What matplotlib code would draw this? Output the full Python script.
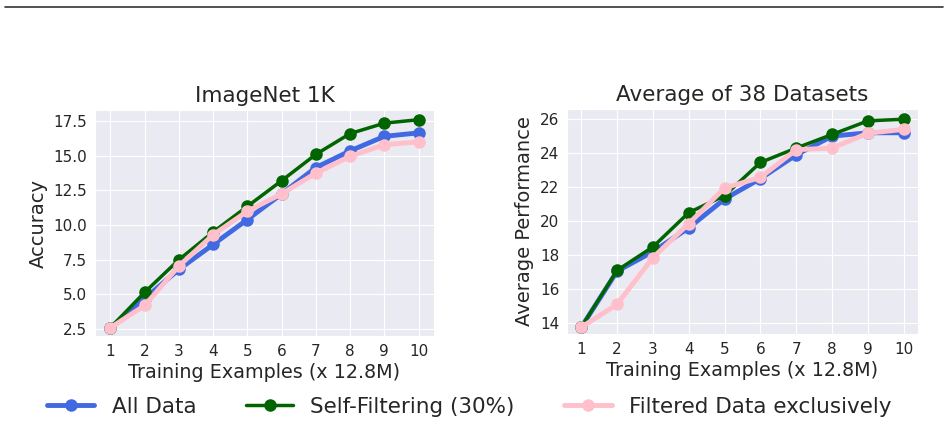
import matplotlib
matplotlib.use("Agg")
import matplotlib.pyplot as plt
import seaborn as sns
import numpy as np

# data
steps = [1, 2, 3, 4, 5, 6, 7, 8, 9, 10]

imnet_all = [2.6, 4.7, 6.8, 8.6, 10.4, 12.25, 14.15, 15.35, 16.4, 16.65]
imnet_self = [2.6, 5.15, 7.5, 9.5, 11.35, 13.2, 15.1, 16.6, 17.35, 17.6]
imnet_filt = [2.6, 4.2, 7.05, 9.3, 11.0, 12.25, 13.75, 14.95, 15.8, 16.0]

avg_all = [13.75, 17.05, 18.2, 19.6, 21.3, 22.5, 23.9, 25.0, 25.2, 25.2]
avg_self = [13.75, 17.1, 18.48, 20.5, 21.5, 23.45, 24.3, 25.1, 25.9, 26.0]
avg_filt = [13.75, 15.1, 17.85, 19.85, 21.95, 22.57, 24.2, 24.3, 25.17, 25.4]

labels = ["All Data", "Self-Filtering (30%)", "Filtered Data exclusively"]
colors = ["royalblue", "darkgreen", "pink"]
widths = [3.5, 2.5, 3.5]

sns.set_style("darkgrid")
plt.rcParams['font.family'] = ['DejaVu Sans']

fig = plt.figure(figsize=(9.48, 4.26), dpi=100)
ax1 = fig.add_axes([95 / 948, 1 - 336 / 426, 339 / 948, 226 / 426])
ax2 = fig.add_axes([567 / 948, 1 - 334 / 426, 351 / 948, 225 / 426])

# horizontal rule at the top of the page
fig.add_artist(plt.Line2D([5 / 948, 943 / 948], [1 - 7 / 426, 1 - 7 / 426],
                          color="#333333", linewidth=1.2))

handles = []
for ax, series, title, ylabel in [
    (ax1, [imnet_all, imnet_self, imnet_filt], "ImageNet 1K", "Accuracy"),
    (ax2, [avg_all, avg_self, avg_filt], "Average of 38 Datasets", "Average Performance"),
]:
    hs = []
    for vals, c, lw, lab in zip(series, colors, widths, labels):
        h, = ax.plot(steps, vals, color=c, linewidth=lw, marker="o", markersize=8, label=lab)
        hs.append(h)
    handles = hs
    ax.set_title(title, fontsize=15.5)
    ax.set_ylabel(ylabel, fontsize=14)
    ax.set_xlabel("Training Examples (x 12.8M)", fontsize=13.8, labelpad=3)
    ax.set_xticks(steps)
    ax.tick_params(labelsize=11, pad=2)

ax1.set_ylim(2.0, 18.3)
ax1.set_yticks([2.5, 5.0, 7.5, 10.0, 12.5, 15.0, 17.5])
ax1.set_xlim(0.55, 10.45)
ax2.set_ylim(13.35, 26.6)
ax2.set_yticks([14, 16, 18, 20, 22, 24, 26])
ax2.set_xlim(0.6, 10.4)

fig.legend(handles=handles, labels=labels, loc="center", ncol=3,
           bbox_to_anchor=(0.495, 1 - 407 / 426), frameon=False, fontsize=15.5,
           columnspacing=2.3, handlelength=2.2, handletextpad=0.8)

fig.savefig("out.png", dpi=100)
